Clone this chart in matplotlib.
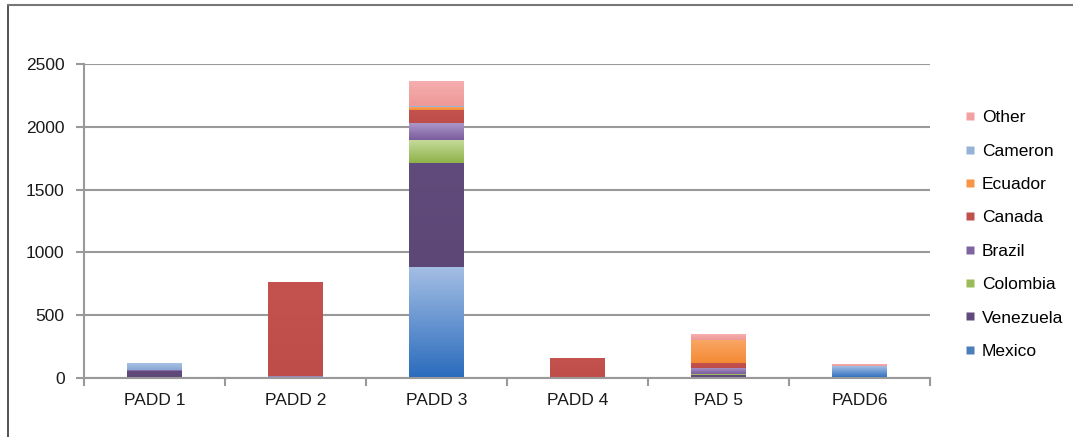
import matplotlib.pyplot as plt
import numpy as np
from matplotlib.colors import LinearSegmentedColormap, to_rgb
from matplotlib.lines import Line2D

plt.rcParams['font.family'] = ['Liberation Sans', 'DejaVu Sans']

regions = ['PADD 1', 'PADD 2', 'PADD 3', 'PADD 4', 'PAD 5', 'PADD6']
countries = ['Mexico', 'Venezuela', 'Colombia', 'Brazil', 'Canada', 'Ecuador', 'Cameron', 'Other']

mexico    = [0, 0, 885, 0, 0, 95]
venezuela = [53, 0, 825, 0, 20, 0]
colombia  = [0, 0, 185, 0, 10, 0]
brazil    = [13, 15, 135, 0, 50, 0]
canada    = [0, 745, 105, 155, 40, 0]
ecuador   = [0, 0, 25, 0, 185, 0]
cameron   = [53, 0, 5, 0, 0, 0]
other     = [0, 0, 195, 0, 45, 10]

series = [mexico, venezuela, colombia, brazil, canada, ecuador, cameron, other]

# (top, bottom) shades for each segment's vertical gradient
shades = {
    'Mexico':    ('#a4bee4', '#2a6cbd'),
    'Venezuela': ('#614b7c', '#5c4777'),
    'Colombia':  ('#c6dc9c', '#8fb24a'),
    'Brazil':    ('#ab97c8', '#7a5c9e'),
    'Canada':    ('#c4524f', '#be4d4a'),
    'Ecuador':   ('#f9a766', '#f58a35'),
    'Cameron':   ('#a7c0e2', '#88a9d4'),
    'Other':     ('#f6aeae', '#ee9898'),
}
legend_colors = {
    'Mexico': '#4a7ebb', 'Venezuela': '#604a7b', 'Colombia': '#9bbb59',
    'Brazil': '#8064a2', 'Canada': '#c0504d', 'Ecuador': '#f79646',
    'Cameron': '#95b3d7', 'Other': '#f2a0a0',
}

fig = plt.figure(figsize=(10.73, 4.37), dpi=100)
ax = fig.add_axes([0.0783, 0.135, 0.7884, 0.7185])

x = np.arange(len(regions))
width = 0.39

bottom = np.zeros(len(regions))
for name, vals in zip(countries, series):
    vals = np.array(vals, dtype=float)
    top_c, bot_c = shades[name]
    cmap = LinearSegmentedColormap.from_list(name, [to_rgb(bot_c), to_rgb(top_c)])
    grad = np.linspace(0, 1, 64).reshape(-1, 1)
    bars = ax.bar(x, vals, width, bottom=bottom, color=legend_colors[name],
                  linewidth=0, zorder=2)
    for b, v in zip(bars, vals):
        if v <= 0:
            continue
        x0, y0 = b.get_x(), b.get_y()
        ax.imshow(grad, cmap=cmap, origin='lower', aspect='auto', zorder=2.5,
                  extent=[x0, x0 + b.get_width(), y0, y0 + v], interpolation='bilinear')
    bottom += vals

ax.set_xlim(-0.5, len(regions) - 0.5)
ax.set_ylim(0, 2500)

ax.set_yticks(np.arange(0, 2501, 500))
ax.yaxis.grid(True, color='#999999', linewidth=1.5, zorder=1)
ax.set_axisbelow(True)
ax.set_xticks(x)
ax.set_xticklabels(regions)
ax.set_xticks(np.arange(-0.5, len(regions)), minor=True)
ax.tick_params(axis='x', which='major', length=0, pad=11, labelsize=12.5, colors='#1a1a1a')
ax.tick_params(axis='x', which='minor', length=6, width=1.5, color='#999999', direction='out')
ax.tick_params(axis='y', length=6, width=1.5, color='#999999', pad=8, labelsize=12.5,
               labelcolor='#1a1a1a')

for side in ['top', 'right']:
    ax.spines[side].set_visible(False)
for side in ['left', 'bottom']:
    ax.spines[side].set_color('#999999')
    ax.spines[side].set_linewidth(1.5)

handles = [Line2D([], [], marker='s', linestyle='none', markersize=6,
                  markerfacecolor=legend_colors[c], markeredgecolor='none')
           for c in reversed(countries)]
fig.legend(handles, list(reversed(countries)), loc='upper left',
           bbox_to_anchor=(0.894, 0.76), frameon=False, fontsize=12.5,
           handlelength=0.6, handletextpad=0.4, labelspacing=1.05,
           borderaxespad=0, borderpad=0.3)

# outer frame (left and top edges)
fig.add_artist(Line2D([8 / 1073, 8 / 1073], [0, 1 - 5 / 437], transform=fig.transFigure,
                      color='#333333', linewidth=1.2))
fig.add_artist(Line2D([8 / 1073, 1], [1 - 5 / 437, 1 - 5 / 437], transform=fig.transFigure,
                      color='#777777', linewidth=1.5))

fig.savefig('out.png', dpi=100)
